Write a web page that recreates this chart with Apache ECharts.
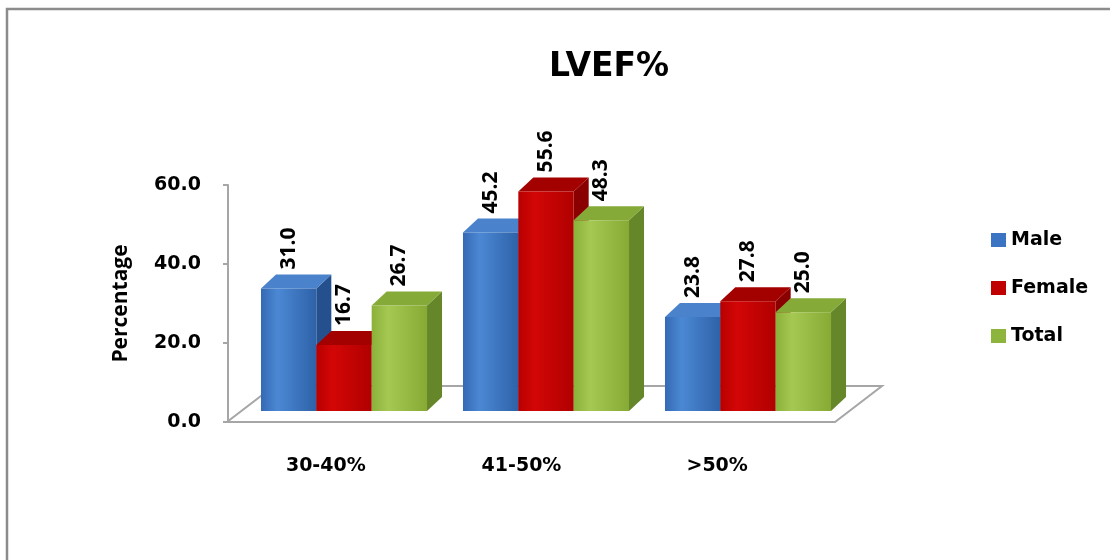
<!DOCTYPE html>
<html>
<head>
<meta charset="utf-8">
<script src="https://cdn.jsdelivr.net/npm/echarts@6/dist/echarts.min.js"></script>
<style>
  html, body { margin: 0; padding: 0; background: #fff; }
  #chart { width: 1110px; height: 560px; }
</style>
</head>
<body>
<div id="chart"></div>
<script>
// data
const categories = ['30-40%', '41-50%', '>50%'];
const seriesNames = ['Male', 'Female', 'Total'];
const maleValues = [31.0, 45.2, 23.8];
const femaleValues = [16.7, 55.6, 27.8];
const totalValues = [26.7, 48.3, 25.0];
const yTicks = [0, 20, 40, 60];

const WIDE = '"DejaVu Sans", sans-serif';
const NARROW = '"Open Sans", "Liberation Sans", sans-serif';
const DX = 15, DY = -14; // depth of the 3d boxes

// front / side / top colours for each series
const palette = [
  { main: '#3b74c2', front: ['#3569b4', '#4b88d4', '#2e62a8'], side: '#24508e', top: '#4a82cc' },
  { main: '#c00000', front: ['#b80000', '#d30606', '#b00000'], side: '#8a0000', top: '#a30000' },
  { main: '#8db43c', front: ['#8bb13a', '#a5c852', '#86aa34'], side: '#66862a', top: '#86aa38' }
];

const chart = echarts.init(document.getElementById('chart'));

function makeBar(idx) {
  const c = palette[idx];
  return function (params, api) {
    const cat = api.value(0);
    const val = api.value(1);
    const base = api.coord([cat, 0]);
    const top = api.coord([cat, val]);
    const band = api.size([1, 0])[0];
    const w = band * 0.274;
    const x0 = base[0] - 1.5 * w + idx * w;
    const yb = base[1], yt = top[1];
    const frontFill = new echarts.graphic.LinearGradient(0, 0, 1, 0, [
      { offset: 0, color: c.front[0] },
      { offset: 0.3, color: c.front[1] },
      { offset: 1, color: c.front[2] }
    ]);
    return {
      type: 'group',
      children: [
        {
          type: 'polygon',
          shape: { points: [[x0 + w, yt], [x0 + w + DX, yt + DY], [x0 + w + DX, yb + DY], [x0 + w, yb]] },
          style: { fill: c.side }
        },
        {
          type: 'polygon',
          shape: { points: [[x0, yt], [x0 + DX, yt + DY], [x0 + w + DX, yt + DY], [x0 + w, yt]] },
          style: { fill: c.top }
        },
        {
          type: 'rect',
          shape: { x: x0, y: yt, width: w, height: yb - yt },
          style: { fill: frontFill }
        },
        {
          type: 'text',
          x: x0 + w / 2,
          y: yt + DY - 5,
          rotation: Math.PI / 2,
          style: {
            text: val.toFixed(1),
            fill: '#000',
            font: 'bold 21px ' + NARROW,
            align: 'left',
            verticalAlign: 'middle'
          }
        }
      ]
    };
  };
}

function renderFloor(params, api) {
  const cs = params.coordSys;
  const yb = cs.y + cs.height;
  const xl = cs.x - 1, xr = cs.x + cs.width + 20;
  return {
    type: 'polygon',
    shape: { points: [[xl, yb], [xr, yb], [xr + 47, yb - 36], [xl + 47, yb - 36]] },
    style: { fill: '#fff', stroke: '#a6a6a6', lineWidth: 2 }
  };
}

const valueSets = [maleValues, femaleValues, totalValues];

const barSeries = seriesNames.map(function (name, i) {
  return {
    name: name,
    type: 'custom',
    xAxisIndex: 1,
    yAxisIndex: 1,
    renderItem: makeBar(i),
    itemStyle: { color: palette[i].main },
    data: valueSets[i].map(function (v, k) { return [k, v]; }),
    z: 3 + i
  };
});

const option = {
  backgroundColor: '#fff',
  animation: false,
  title: {
    text: 'LVEF%',
    left: 604,
    top: 46,
    textAlign: 'center',
    textStyle: { fontFamily: WIDE, fontWeight: 'bold', fontSize: 33, color: '#000' }
  },
  legend: {
    orient: 'vertical',
    left: 986,
    top: 225,
    itemGap: 28,
    itemWidth: 15,
    itemHeight: 14,
    icon: 'rect',
    data: seriesNames,
    textStyle: { fontFamily: WIDE, fontWeight: 'bold', fontSize: 19, lineHeight: 20, color: '#000' }
  },
  grid: [
    { left: 228, top: 185, width: 587, height: 237 },
    { left: 243, top: 174, width: 606, height: 237 }
  ],
  xAxis: [
    {
      type: 'category',
      gridIndex: 0,
      data: categories,
      axisLine: { show: false },
      axisTick: { show: false },
      axisLabel: { margin: 35, fontFamily: WIDE, fontWeight: 'bold', fontSize: 19, color: '#000' }
    },
    {
      type: 'category',
      gridIndex: 1,
      data: categories,
      show: false
    }
  ],
  yAxis: [
    {
      type: 'value',
      gridIndex: 0,
      min: yTicks[0],
      max: yTicks[yTicks.length - 1],
      interval: 20,
      name: 'Percentage',
      nameLocation: 'middle',
      nameRotate: 90,
      nameGap: 96,
      nameTextStyle: { fontFamily: NARROW, fontWeight: 'bold', fontSize: 21, color: '#000' },
      axisLine: { show: true, lineStyle: { color: '#a6a6a6', width: 2 } },
      axisTick: { show: true, length: 5, lineStyle: { color: '#a6a6a6', width: 2 } },
      splitLine: { show: false },
      axisLabel: {
        margin: 27,
        fontFamily: WIDE, fontWeight: 'bold', fontSize: 19, color: '#000',
        formatter: function (v) { return v.toFixed(1); }
      }
    },
    {
      type: 'value',
      gridIndex: 1,
      min: yTicks[0],
      max: yTicks[yTicks.length - 1],
      show: false
    }
  ],
  graphic: [
    {
      type: 'rect',
      shape: { x: 7, y: 9, width: 1200, height: 700 },
      style: { fill: 'none', stroke: '#8c8c8c', lineWidth: 2.5 },
      silent: true
    }
  ],
  series: [
    {
      name: 'floor',
      type: 'custom',
      xAxisIndex: 0,
      yAxisIndex: 0,
      renderItem: renderFloor,
      data: [[0, 0]],
      silent: true,
      z: 1
    }
  ].concat(barSeries)
};

chart.setOption(option);
</script>
</body>
</html>
